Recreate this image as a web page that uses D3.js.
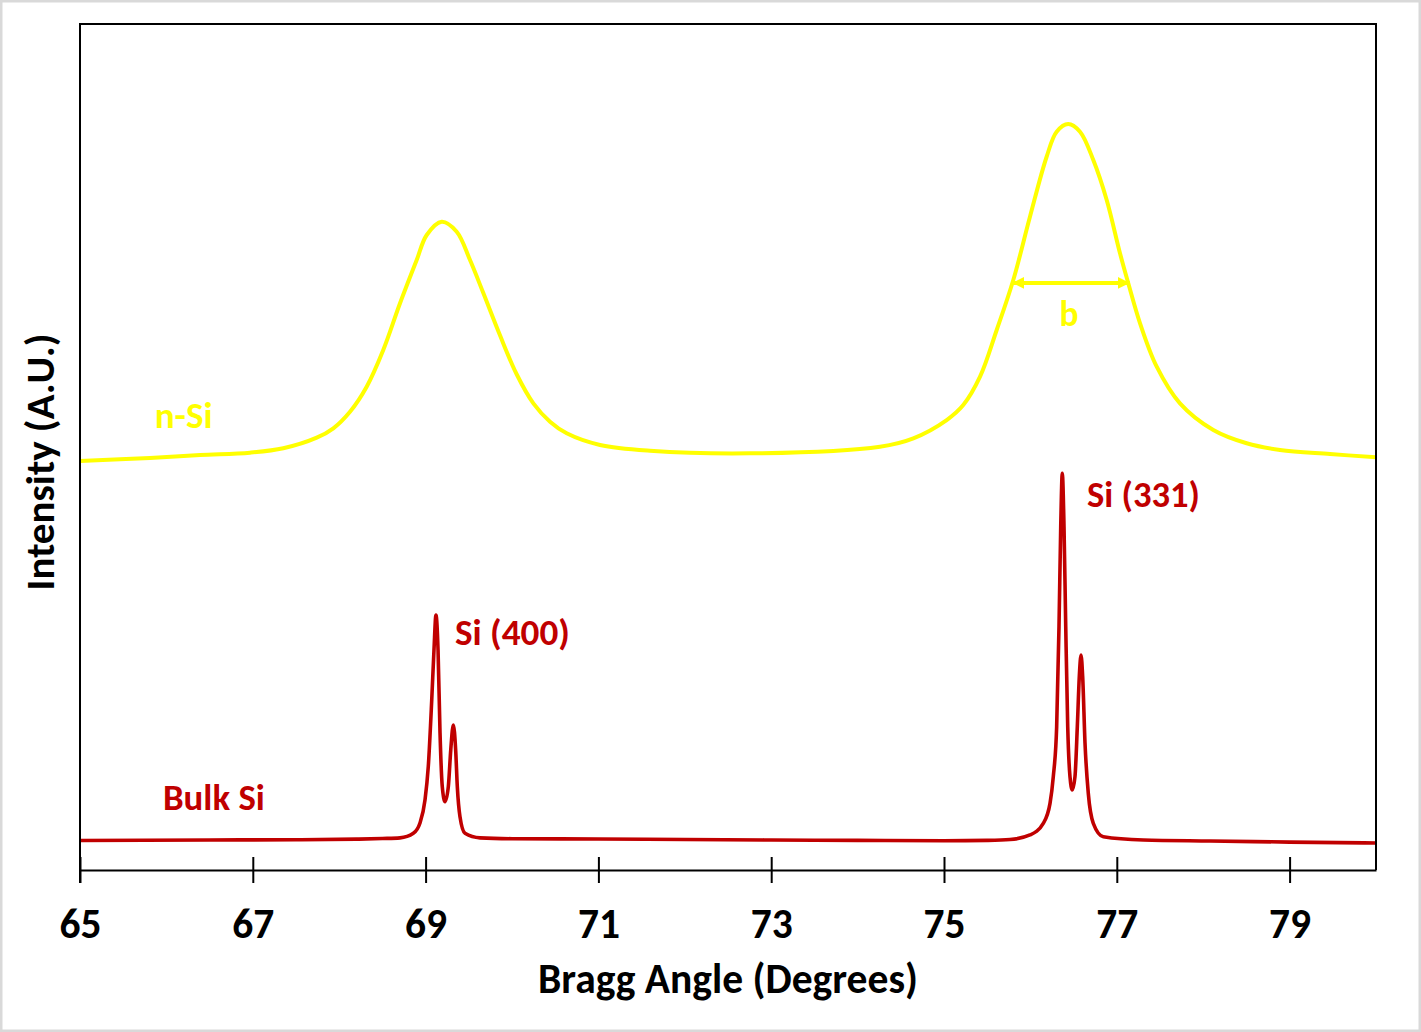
<!DOCTYPE html>
<html>
<head>
<meta charset="utf-8">
<script src="https://cdn.jsdelivr.net/npm/d3@7"></script>
<style>
    html, body { margin: 0; padding: 0; background: #fff; }
    svg text { font-family: Carlito, Lato, "Open Sans", sans-serif; font-weight: bold; }
</style>
</head>
<body>
<svg id="chart" width="1421" height="1032"></svg>
<script>
// x axis ticks (degrees)
const ANGLE_TICKS = [65, 67, 69, 71, 73, 75, 77, 79];

// n-Si pattern
const NSI_ANGLE = [65.000, 65.810, 66.389, 66.968, 67.353, 67.740, 67.932, 68.125, 68.318, 68.510,
    68.704, 68.897, 69.013, 69.186, 69.360, 69.514, 69.668, 69.861, 70.054, 70.247,
    70.440, 70.633, 71.019, 71.597, 72.755, 74.259, 74.645, 75.031, 75.223, 75.417,
    75.610, 75.802, 75.995, 76.188, 76.304, 76.438, 76.574, 76.728, 76.883, 77.037,
    77.133, 77.269, 77.462, 77.731, 78.117, 78.503, 78.889, 79.468, 80.000];
const NSI_INTENSITY = [48.35, 48.70, 49.05, 49.33, 49.85, 51.10, 52.21, 54.17, 57.13, 61.47,
    66.99, 72.10, 75.06, 76.63, 75.45, 72.10, 68.20, 63.20, 58.60, 55.16,
    52.99, 51.62, 50.24, 49.56, 49.25, 50.04, 51.03, 53.19, 54.96, 58.31,
    63.83, 69.74, 77.22, 84.31, 87.27, 88.18, 87.27, 83.92, 79.20, 72.90,
    69.35, 64.62, 59.49, 55.16, 52.01, 50.44, 49.65, 49.17, 48.78];

// bulk Si pattern
const BULK_ANGLE = [65.00, 66.50, 67.50, 68.20, 68.50, 68.704, 68.858, 68.935, 68.993, 69.031,
    69.071, 69.097, 69.120, 69.144, 69.167, 69.193, 69.225, 69.263, 69.291, 69.321,
    69.348, 69.367, 69.398, 69.456, 69.630, 70.00, 71.00, 72.00, 73.00, 74.00,
    75.00, 75.50, 75.764, 75.995, 76.149, 76.227, 76.265, 76.304, 76.331, 76.351,
    76.369, 76.389, 76.409, 76.432, 76.458, 76.485, 76.516, 76.543, 76.566, 76.586,
    76.605, 76.632, 76.670, 76.728, 76.844, 77.307, 78.079, 79.00, 80.00];
const BULK_INTENSITY = [3.49, 3.55, 3.58, 3.65, 3.72, 3.80, 4.34, 5.56, 8.27, 12.21,
    20.09, 26.00, 30.14, 26.00, 16.19, 9.85, 8.07, 9.85, 14.18, 17.14,
    14.18, 9.85, 6.30, 4.34, 3.80, 3.70, 3.66, 3.60, 3.55, 3.50,
    3.45, 3.50, 3.60, 4.14, 5.52, 7.88, 11.03, 16.94, 28.76, 40.58,
    46.89, 40.58, 28.76, 16.94, 11.03, 9.46, 11.03, 16.94, 22.85, 25.41,
    22.85, 15.01, 9.07, 5.52, 3.94, 3.55, 3.43, 3.30, 3.19];

// peak width marker on the (331) n-Si peak
const FWHM_START = 75.79;
const FWHM_END = 77.15;
const FWHM_LEVEL = 69.4;

const YELLOW = "#ffff00";
const RED = "#c00000";

const svg = d3.select("#chart");
const W = 1421, H = 1032;
const plotLeft = 80, plotRight = 1376, plotTop = 24, plotBottom = 870;

const x = d3.scaleLinear().domain([65, 80]).range([plotLeft, plotRight]);
const y = d3.scaleLinear().domain([0, 100]).range([plotBottom, plotTop]);

// width fitting, since Calibri itself is not available
const fitWidth = (sel, target) => {
    const size = parseFloat(sel.attr("font-size"));
    const w = sel.node().getComputedTextLength();
    if (w > 0) sel.attr("font-size", size * target / w);
    return sel;
};

// chart area border
svg.append("rect")
    .attr("x", 1.25).attr("y", 1.25)
    .attr("width", W - 2.5).attr("height", H - 2.5)
    .attr("fill", "#fff")
    .attr("stroke", "#d9d9d9")
    .attr("stroke-width", 2.5);

svg.append("clipPath").attr("id", "plot-clip")
    .append("rect")
    .attr("x", plotLeft).attr("y", plotTop)
    .attr("width", plotRight - plotLeft).attr("height", plotBottom - plotTop);

const smoothLine = d3.line()
    .x(d => x(d[0]))
    .y(d => y(d[1]))
    .curve(d3.curveCatmullRom.alpha(0.5));

const peakLine = d3.line()
    .x(d => x(d[0]))
    .y(d => y(d[1]))
    .curve(d3.curveMonotoneX);

const plot = svg.append("g").attr("clip-path", "url(#plot-clip)");

plot.append("path")
    .datum(NSI_ANGLE.map((a, i) => [a, NSI_INTENSITY[i]]))
    .attr("d", smoothLine)
    .attr("fill", "none")
    .attr("stroke", YELLOW)
    .attr("stroke-width", 4)
    .attr("stroke-linejoin", "round");

plot.append("path")
    .datum(BULK_ANGLE.map((a, i) => [a, BULK_INTENSITY[i]]))
    .attr("d", peakLine)
    .attr("fill", "none")
    .attr("stroke", RED)
    .attr("stroke-width", 3.6)
    .attr("stroke-linejoin", "round");

// double headed arrow for b
const defs = svg.append("defs");
["start", "end"].forEach(side => {
    defs.append("marker")
        .attr("id", "arrow-" + side)
        .attr("viewBox", "0 0 10 10")
        .attr("refX", side === "end" ? 10 : 0)
        .attr("refY", 5)
        .attr("markerUnits", "userSpaceOnUse")
        .attr("markerWidth", 12)
        .attr("markerHeight", 13)
        .attr("orient", "auto")
        .append("path")
        .attr("d", side === "end" ? "M0,0 L10,5 L0,10 Z" : "M10,0 L0,5 L10,10 Z")
        .attr("fill", YELLOW);
});

svg.append("line")
    .attr("x1", x(FWHM_START)).attr("x2", x(FWHM_END))
    .attr("y1", y(FWHM_LEVEL)).attr("y2", y(FWHM_LEVEL))
    .attr("stroke", YELLOW)
    .attr("stroke-width", 4)
    .attr("marker-start", "url(#arrow-start)")
    .attr("marker-end", "url(#arrow-end)");

// frame
svg.append("path")
    .attr("d", `M${plotLeft},${plotBottom + 13} V${plotTop} H${plotRight} V${plotBottom}`)
    .attr("fill", "none")
    .attr("stroke", "#000")
    .attr("stroke-width", 2);

// x axis
const xAxis = d3.axisBottom(x)
    .tickValues(ANGLE_TICKS)
    .tickSizeInner(13)
    .tickSizeOuter(0)
    .tickFormat(d3.format("d"));

const gx = svg.append("g")
    .attr("transform", `translate(0,${plotBottom})`)
    .call(xAxis);

gx.attr("font-family", null).attr("font-size", null);
gx.select(".domain").attr("stroke", "#000").attr("stroke-width", 2);
gx.selectAll(".tick line")
    .attr("y1", -13).attr("y2", 13)
    .attr("stroke", "#000").attr("stroke-width", 2);
gx.selectAll(".tick text")
    .attr("y", 68).attr("dy", 0)
    .attr("fill", "#000")
    .attr("font-size", 40);
const firstTick = gx.select(".tick text");
fitWidth(firstTick, 42);
gx.selectAll(".tick text").attr("font-size", firstTick.attr("font-size"));

// axis titles
fitWidth(svg.append("text")
    .attr("x", (plotLeft + plotRight) / 2).attr("y", 993)
    .attr("text-anchor", "middle")
    .attr("font-size", 40)
    .text("Bragg Angle (Degrees)"), 380);

fitWidth(svg.append("text")
    .attr("transform", "translate(54,462) rotate(-90)")
    .attr("text-anchor", "middle")
    .attr("font-size", 40)
    .text("Intensity (A.U.)"), 257);

// series annotations
const annotate = (txt, ax, val, anchor, color, width) =>
    fitWidth(svg.append("text")
        .attr("x", x(ax)).attr("y", y(val))
        .attr("text-anchor", anchor)
        .attr("fill", color)
        .attr("font-size", 36)
        .text(txt), width);

annotate("n-Si", 66.20, 52.25, "middle", YELLOW, 58);
annotate("Bulk Si", 66.55, 7.09, "middle", RED, 102);
annotate("Si (400)", 69.34, 26.6, "start", RED, 115);
annotate("Si (331)", 76.655, 42.9, "start", RED, 113);
annotate("b", 76.447, 64.3, "middle", YELLOW, 19);
</script>
</body>
</html>
